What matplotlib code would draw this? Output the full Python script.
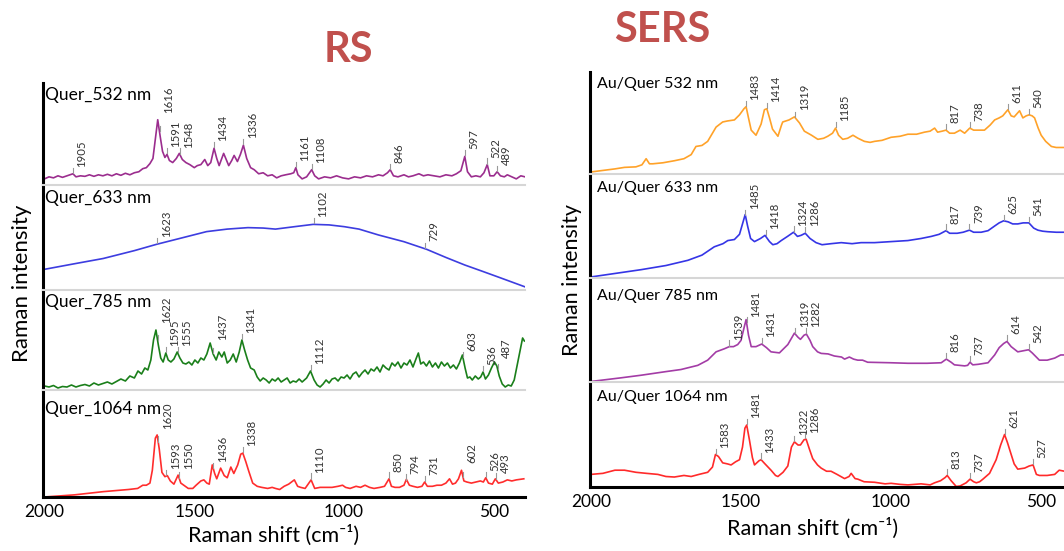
import matplotlib
matplotlib.use('Agg')
import matplotlib.pyplot as plt
import numpy as np

plt.rcParams['font.family'] = ['Lato', 'DejaVu Sans']

# spectra: [wavenumber (cm-1), relative intensity inside its strip]
rs532 = np.array([
    [2000, .06], [1985, .08], [1970, .07], [1955, .09], [1940, .075], [1925, .09], [1905, .11],
    [1895, .08], [1880, .09], [1865, .085], [1850, .10], [1835, .085], [1820, .10], [1805, .09],
    [1790, .105], [1775, .09], [1760, .11], [1745, .095], [1730, .115], [1715, .10], [1700, .12],
    [1685, .13], [1672, .16], [1660, .17], [1648, .21], [1638, .26], [1630, .45], [1622, .64],
    [1614, .48], [1606, .33], [1598, .27], [1591, .30], [1583, .24], [1572, .22], [1560, .26],
    [1550, .31], [1540, .25], [1528, .22], [1515, .20], [1500, .17], [1490, .19], [1478, .20],
    [1465, .25], [1455, .19], [1445, .22], [1434, .36], [1425, .26], [1417, .19], [1402, .31],
    [1392, .24], [1385, .19], [1375, .24], [1367, .29], [1356, .23], [1346, .30], [1336, .39],
    [1325, .26], [1312, .17], [1300, .15], [1285, .11], [1270, .12], [1255, .09], [1240, .10],
    [1225, .07], [1210, .09], [1195, .10], [1178, .11], [1168, .12], [1161, .17], [1154, .10],
    [1140, .06], [1125, .08], [1108, .15], [1098, .09], [1085, .06], [1065, .08], [1045, .07],
    [1025, .09], [1005, .07], [985, .06], [965, .08], [945, .07], [925, .09], [905, .08],
    [885, .10], [870, .09], [855, .12], [846, .15], [835, .09], [820, .08], [800, .10],
    [785, .08], [770, .09], [750, .11], [735, .09], [720, .10], [700, .09], [680, .08],
    [660, .10], [640, .09], [625, .11], [610, .14], [597, .28], [588, .13], [575, .08],
    [560, .09], [545, .08], [533, .12], [522, .20], [513, .09], [500, .09], [489, .13],
    [478, .09], [465, .08], [455, .10], [440, .08], [425, .06], [410, .09], [396, .08]])

rs633 = np.array([
    [2000, .197], [1900, .25], [1804, .30], [1700, .375], [1626, .435], [1550, .49],
    [1459, .556], [1390, .58], [1321, .594], [1270, .59], [1229, .58], [1160, .605],
    [1103, .625], [1050, .62], [999, .603], [950, .58], [885, .524], [800, .46],
    [724, .387], [660, .31], [597, .238], [540, .18], [482, .12], [396, .03]])

rs785 = np.array([
    [2000, .04], [1985, .03], [1970, .045], [1955, .02], [1940, .035], [1925, .03], [1910, .05],
    [1895, .03], [1880, .045], [1865, .055], [1850, .04], [1835, .07], [1820, .05], [1805, .065],
    [1790, .08], [1775, .06], [1760, .085], [1745, .11], [1730, .09], [1715, .14], [1700, .12],
    [1688, .19], [1676, .16], [1665, .22], [1655, .20], [1645, .30], [1636, .50], [1628, .60],
    [1620, .45], [1612, .32], [1604, .28], [1595, .37], [1587, .30], [1578, .28], [1568, .31],
    [1557, .38], [1548, .32], [1538, .27], [1528, .26], [1518, .28], [1508, .25], [1498, .30],
    [1488, .27], [1478, .32], [1468, .30], [1458, .36], [1447, .47], [1437, .36], [1427, .30],
    [1418, .38], [1408, .33], [1400, .38], [1390, .27], [1380, .30], [1370, .36], [1360, .28],
    [1350, .38], [1341, .50], [1332, .40], [1322, .30], [1312, .22], [1300, .20], [1290, .13],
    [1280, .09], [1270, .12], [1260, .10], [1250, .07], [1240, .11], [1230, .09], [1220, .12],
    [1210, .08], [1200, .10], [1190, .12], [1180, .07], [1170, .09], [1160, .08], [1150, .11],
    [1140, .08], [1125, .12], [1112, .19], [1100, .10], [1090, .05], [1080, .03], [1070, .06],
    [1060, .10], [1050, .07], [1040, .11], [1030, .12], [1020, .09], [1010, .13], [1000, .12],
    [990, .15], [980, .11], [970, .16], [960, .18], [950, .13], [940, .17], [930, .20],
    [920, .16], [910, .21], [900, .19], [890, .23], [880, .18], [870, .25], [860, .22],
    [850, .20], [840, .27], [830, .24], [820, .28], [810, .22], [800, .27], [790, .25],
    [780, .30], [770, .23], [760, .31], [752, .37], [744, .26], [735, .28], [725, .24],
    [715, .29], [705, .23], [695, .27], [685, .22], [675, .28], [665, .24], [655, .27],
    [645, .22], [635, .25], [625, .21], [615, .27], [605, .35], [596, .22], [588, .12],
    [580, .13], [572, .10], [562, .14], [552, .11], [544, .13], [536, .18], [528, .11],
    [518, .15], [508, .22], [498, .28], [490, .24], [482, .14], [472, .06], [462, .03],
    [452, .05], [442, .04], [432, .10], [422, .25], [412, .40], [404, .52], [398, .49]])

rs1064 = np.array([
    [2000, .0], [1900, .02], [1804, .05], [1720, .07], [1689, .08], [1672, .11], [1660, .11],
    [1648, .13], [1640, .25], [1630, .55], [1624, .58], [1617, .45], [1608, .23], [1598, .19],
    [1590, .20], [1580, .15], [1568, .12], [1554, .205], [1545, .13], [1535, .11], [1520, .08],
    [1505, .08], [1494, .11], [1478, .15], [1468, .16], [1458, .13], [1450, .12], [1440, .30],
    [1432, .22], [1425, .17], [1412, .27], [1400, .20], [1390, .18], [1378, .28], [1368, .22],
    [1355, .30], [1345, .40], [1338, .41], [1328, .33], [1318, .24], [1305, .13], [1290, .10],
    [1275, .09], [1255, .08], [1240, .09], [1229, .08], [1215, .07], [1200, .10], [1185, .12],
    [1166, .16], [1155, .10], [1145, .09], [1130, .08], [1110, .16], [1098, .08], [1080, .09],
    [1060, .09], [1040, .09], [1020, .10], [1005, .11], [995, .09], [980, .08], [960, .10],
    [945, .09], [930, .11], [915, .09], [900, .08], [880, .09], [865, .10], [850, .17],
    [842, .10], [830, .09], [815, .09], [800, .11], [792, .165], [782, .11], [770, .10],
    [755, .09], [740, .10], [731, .14], [722, .10], [705, .10], [690, .11], [675, .11],
    [660, .13], [648, .17], [638, .12], [628, .13], [618, .17], [608, .25], [600, .15],
    [590, .14], [575, .13], [560, .14], [545, .15], [535, .14], [527, .18], [518, .13],
    [505, .12], [495, .17], [485, .13], [470, .14], [455, .16], [440, .15], [425, .16], [400, .17]])

sers532 = np.array([
    [2005, .0], [2000, .02], [1960, .035], [1920, .05], [1888, .065], [1850, .07], [1830, .09],
    [1816, .15], [1805, .10], [1794, .10], [1760, .11], [1722, .13], [1690, .15], [1666, .19],
    [1650, .27], [1630, .28], [1611, .32], [1595, .40], [1583, .46], [1561, .51], [1545, .52],
    [1522, .53], [1505, .58], [1490, .64], [1483, .66], [1475, .55], [1466, .43], [1450, .38],
    [1433, .49], [1422, .63], [1414, .64], [1405, .55], [1395, .44], [1377, .37], [1365, .48],
    [1361, .51], [1340, .53], [1322, .56], [1305, .50], [1289, .42], [1265, .38], [1244, .34],
    [1225, .35], [1211, .37], [1195, .40], [1185, .45], [1175, .38], [1161, .34], [1145, .35],
    [1127, .38], [1110, .35], [1089, .32], [1070, .31], [1055, .32], [1030, .33], [1000, .36],
    [970, .37], [944, .39], [915, .39], [889, .41], [870, .42], [855, .45], [845, .41],
    [830, .42], [817, .43], [805, .40], [789, .40], [770, .43], [755, .40], [738, .45],
    [725, .43], [705, .43], [689, .43], [670, .48], [655, .53], [640, .55], [628, .57],
    [611, .63], [600, .57], [590, .56], [572, .62], [561, .55], [550, .57], [540, .58],
    [530, .57], [522, .55], [510, .45], [500, .38], [485, .32], [466, .27], [450, .26], [404, .26]])

sers633 = np.array([
    [2005, .0], [2000, .01], [1833, .08], [1750, .12], [1677, .17], [1630, .22], [1589, .30],
    [1560, .33], [1544, .36], [1522, .37], [1505, .42], [1495, .52], [1486, .61], [1478, .50],
    [1468, .38], [1455, .35], [1435, .38], [1420, .41], [1405, .35], [1394, .32], [1380, .33],
    [1366, .36], [1345, .40], [1325, .44], [1312, .40], [1300, .41], [1286, .43], [1270, .38],
    [1250, .34], [1230, .32], [1200, .33], [1166, .34], [1130, .33], [1100, .34], [1055, .34],
    [1000, .35], [944, .36], [900, .38], [866, .40], [840, .42], [817, .455], [805, .43],
    [780, .43], [760, .44], [739, .46], [725, .44], [700, .44], [677, .455], [655, .50],
    [640, .53], [625, .55], [610, .54], [595, .52], [578, .52], [560, .53], [541, .53],
    [525, .48], [511, .46], [495, .45], [478, .445], [450, .44], [404, .44]])

sers785 = np.array([
    [2005, .0], [2000, .005], [1900, .04], [1833, .065], [1750, .10], [1700, .12], [1644, .16],
    [1611, .21], [1583, .29], [1555, .32], [1539, .34], [1525, .34], [1511, .36], [1500, .40],
    [1490, .52], [1483, .60], [1475, .45], [1466, .34], [1450, .34], [1431, .365], [1415, .33],
    [1400, .29], [1372, .28], [1344, .36], [1330, .43], [1322, .47], [1310, .43], [1302, .41],
    [1290, .45], [1282, .46], [1270, .40], [1261, .34], [1245, .29], [1233, .275], [1210, .27],
    [1189, .25], [1165, .24], [1155, .22], [1139, .24], [1125, .22], [1111, .21], [1095, .21],
    [1078, .19], [1000, .185], [944, .18], [880, .18], [833, .185], [816, .22], [800, .19],
    [789, .165], [755, .155], [745, .16], [737, .19], [728, .165], [710, .17], [677, .185],
    [655, .26], [640, .33], [625, .37], [614, .39], [600, .34], [578, .29], [560, .30],
    [542, .31], [530, .28], [506, .21], [480, .21], [455, .23], [435, .26], [404, .26]])

sers1064 = np.array([
    [2005, .11], [2000, .12], [1960, .13], [1920, .16], [1888, .16], [1850, .14], [1815, .13],
    [1777, .12], [1750, .10], [1722, .095], [1690, .11], [1666, .10], [1640, .12], [1611, .14],
    [1595, .19], [1585, .31], [1575, .29], [1561, .23], [1545, .22], [1533, .21], [1518, .24],
    [1505, .26], [1495, .38], [1487, .56], [1481, .59], [1472, .45], [1462, .28], [1455, .21],
    [1440, .25], [1433, .26], [1420, .22], [1400, .16], [1385, .11], [1377, .10], [1360, .14],
    [1344, .20], [1332, .38], [1322, .43], [1310, .40], [1302, .40], [1290, .45], [1283, .455],
    [1272, .36], [1261, .27], [1245, .21], [1233, .18], [1215, .15], [1200, .15], [1180, .12],
    [1155, .08], [1140, .10], [1133, .13], [1120, .08], [1111, .075], [1090, .05], [1055, .045],
    [1020, .03], [1000, .035], [970, .025], [944, .02], [900, .03], [870, .02], [855, .04],
    [835, .06], [820, .09], [813, .11], [800, .06], [783, .005], [770, .01], [750, .04],
    [737, .075], [725, .05], [716, .04], [705, .05], [694, .075], [672, .13], [650, .26],
    [635, .40], [622, .50], [612, .42], [600, .31], [590, .22], [578, .17], [555, .18],
    [540, .20], [527, .21], [516, .12], [506, .11], [480, .11], [455, .12], [440, .16], [404, .14]])

# labelled band positions
rs532_peaks = [1905, 1616, 1591, 1548, 1434, 1336, 1161, 1108, 846, 597, 522, 489]
rs633_peaks = [1623, 1102, 729]
rs785_peaks = [1622, 1595, 1555, 1437, 1341, 1112, 603, 536, 487]
rs1064_peaks = [1620, 1593, 1550, 1436, 1338, 1110, 850, 794, 731, 602, 526, 493]
sers532_peaks = [1483, 1414, 1319, 1185, 817, 738, 611, 540]
sers633_peaks = [1485, 1418, 1324, 1286, 817, 739, 625, 541]
sers785_peaks = [1539, 1481, 1431, 1319, 1282, 816, 737, 614, 542]
sers1064_peaks = [1583, 1481, 1433, 1322, 1286, 813, 737, 621, 527]

rs_names = ['Quer_532 nm', 'Quer_633 nm', 'Quer_785 nm', 'Quer_1064 nm']
sers_names = ['Au/Quer 532 nm', 'Au/Quer 633 nm', 'Au/Quer 785 nm', 'Au/Quer 1064 nm']
x_ticks = [2000, 1500, 1000, 500]

W, H = 1064, 551
fig = plt.figure(figsize=(W / 100, H / 100), dpi=100)


def px_axes(x0, x1, top, bottom):
    return fig.add_axes([x0 / W, 1 - bottom / H, (x1 - x0) / W, (bottom - top) / H])


def fig_text(x, y, s, **kw):
    fig.text(x / W, 1 - y / H, s, **kw)


def draw_strip(ax, spec, peaks, color, name, name_size, name_dx, name_dy, xlim, first, last):
    ax.plot(spec[:, 0], spec[:, 1], color=color, lw=1.2)
    ax.set_xlim(*xlim)
    ax.set_ylim(0, 1)
    ax.set_yticks([])
    ax.spines['right'].set_visible(False)
    ax.spines['left'].set_linewidth(2.2)
    ax.spines['left'].set_color('black')
    if first:
        ax.spines['top'].set_visible(False)
    else:
        ax.spines['top'].set_color('#d6d6d6')
        ax.spines['top'].set_linewidth(1.5)
    if last:
        ax.spines['bottom'].set_color('black')
        ax.spines['bottom'].set_linewidth(2.2)
        ax.set_xticks(x_ticks)
        ax.tick_params(axis='x', length=0, labelsize=12.5, pad=5)
    else:
        ax.spines['bottom'].set_visible(False)
        ax.set_xticks([])
    ax.annotate(name, xy=(0, 1), xycoords='axes fraction', xytext=(name_dx, -name_dy),
                textcoords='offset pixels', va='center', ha='left', fontsize=name_size)
    ws, ys = spec[::-1, 0], spec[::-1, 1]
    for p in peaks:
        yp = np.interp(p, ws, ys)
        # put the number above the highest point near the band
        ytop = max(yp, np.interp(p + 6, ws, ys))
        ax.plot([p, p], [yp + 0.01, yp + 0.06], color='#999999', lw=0.8)
        ax.annotate(str(p), xy=(p, ytop), xytext=(2.5, 5), textcoords='offset points',
                    rotation=90, ha='left', va='bottom', fontsize=8.2, color='#333333')


rs_specs = [rs532, rs633, rs785, rs1064]
rs_peaks = [rs532_peaks, rs633_peaks, rs785_peaks, rs1064_peaks]
rs_colors = ['#9b2d8e', '#3d3de0', '#1a7f1a', '#ff2d2d']
rs_rows = [(83, 185), (185, 290), (290, 390), (390, 497)]
rs_dy = [12, 13, 12, 19]

sers_specs = [sers532, sers633, sers785, sers1064]
sers_peaks = [sers532_peaks, sers633_peaks, sers785_peaks, sers1064_peaks]
sers_colors = ['#ffa229', '#3535e6', '#a33ca6', '#ff2a2a']
sers_rows = [(72, 174), (174, 278), (278, 382), (382, 487)]
sers_dy = [12, 14, 18, 15]

for k in range(4):
    ax = px_axes(43, 525, *rs_rows[k])
    draw_strip(ax, rs_specs[k], rs_peaks[k], rs_colors[k], rs_names[k], 12.5, 2, rs_dy[k],
               (2005, 396), k == 0, k == 3)
    ax = px_axes(590, 1070, *sers_rows[k])
    draw_strip(ax, sers_specs[k], sers_peaks[k], sers_colors[k], sers_names[k], 11.5, 7, sers_dy[k],
               (2003, 404), k == 0, k == 3)

fig_text(348, 50, 'RS', fontsize=30, fontweight='bold', color='#c0504d', ha='center', va='center')
fig_text(662, 30, 'SERS', fontsize=30, fontweight='bold', color='#c0504d', ha='center', va='center')
fig_text(22, 283, 'Raman intensity', fontsize=16, rotation=90, ha='center', va='center')
fig_text(572, 280, 'Raman intensity', fontsize=15.5, rotation=90, ha='center', va='center')
fig_text(274, 535, 'Raman shift (cm⁻¹)', fontsize=15.5, ha='center', va='center')
fig_text(813, 528, 'Raman shift (cm⁻¹)', fontsize=15.5, ha='center', va='center')

fig.savefig('out.png', dpi=100)
